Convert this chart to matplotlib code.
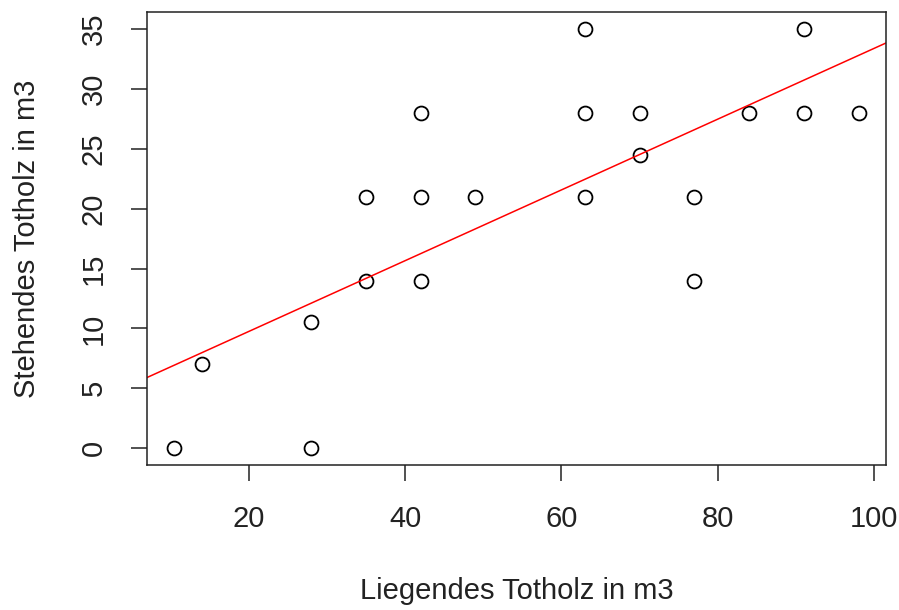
import numpy as np
import matplotlib.pyplot as plt

plt.rcParams['font.family'] = ['Liberation Sans', 'DejaVu Sans']

# Liegendes vs. stehendes Totholz (m3)
liegend = [10.5, 14, 28, 28, 35, 35, 42, 42, 42, 49, 63, 63, 63,
           70, 70, 77, 77, 84, 91, 91, 98]
stehend = [0, 7, 10.5, 0, 21, 14, 28, 21, 14, 21, 35, 28, 21,
           28, 24.5, 21, 14, 28, 35, 28, 28]

x = np.array(liegend)
y = np.array(stehend)

fig = plt.figure(figsize=(8.99, 6.10), dpi=100)
ax = fig.add_axes([0.1635, 0.2377, 0.822, 0.7423])

ax.plot(x, y, 'o', mfc='none', mec='black', ms=10, mew=1.3)

# Regressionsgerade (lm)
b, a = np.polyfit(x, y, 1)
xl = np.array([0, 110])
ax.plot(xl, a + b * xl, color='red', lw=1.1)

# R-Stil: 4% Rand
dx = (x.max() - x.min()) * 0.04
dy = (y.max() - y.min()) * 0.04
ax.set_xlim(x.min() - dx, x.max() + dx)
ax.set_ylim(y.min() - dy, y.max() + dy)

ax.set_xticks([20, 40, 60, 80, 100])
ax.set_yticks([0, 5, 10, 15, 20, 25, 30, 35])
ax.tick_params(length=11.5, width=1.1, labelsize=21, pad=17, colors='#222222')
for lab in ax.get_yticklabels():
    lab.set_rotation(90)
    lab.set_va('center')
for s in ax.spines.values():
    s.set_linewidth(1.1)
    s.set_color('#222222')

ax.set_xlabel('Liegendes Totholz in m3', fontsize=21, labelpad=32, color='#222222')
ax.set_ylabel('Stehendes Totholz in m3', fontsize=21, labelpad=28, color='#222222')

plt.savefig('out.png', dpi=100)
